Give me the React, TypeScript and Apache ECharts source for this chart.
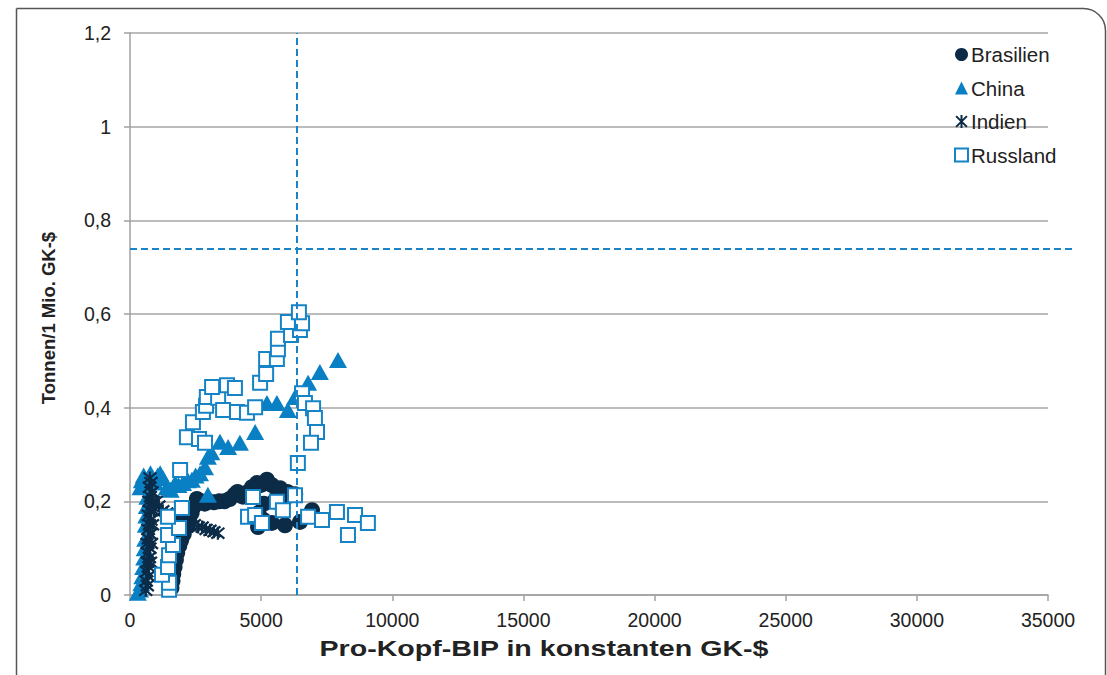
import React, { useEffect, useRef } from "react";
import * as echarts from "echarts";

// Pro-Kopf-BIP (GK-$) vs. Tonnen je 1 Mio. GK-$
const brasilien: [number, number][] = [
  [1580, 0.015], [1620, 0.03], [1650, 0.045], [1700, 0.06], [1750, 0.075], [1800, 0.09],
  [1880, 0.105], [1950, 0.117], [2050, 0.13], [2150, 0.145], [2250, 0.16], [2350, 0.175],
  [2450, 0.19], [2550, 0.205], [2700, 0.2], [2850, 0.195], [3000, 0.2], [3200, 0.198],
  [3400, 0.2], [3600, 0.2], [3800, 0.205], [4000, 0.215], [4100, 0.22], [4300, 0.21],
  [4500, 0.22], [4650, 0.23], [4840, 0.239], [5000, 0.235], [5220, 0.246], [5400, 0.235],
  [5600, 0.225], [5720, 0.228], [6000, 0.22], [6300, 0.215], [5900, 0.205], [5500, 0.2],
  [5100, 0.195], [4900, 0.175], [4880, 0.145], [5100, 0.16], [5410, 0.154], [5910, 0.149],
  [6480, 0.156], [6940, 0.181],
];

const china: [number, number][] = [
  [300, 0.005], [380, 0.012], [430, 0.025], [470, 0.04], [500, 0.06], [540, 0.08],
  [560, 0.1], [580, 0.12], [600, 0.15], [620, 0.17], [640, 0.19], [660, 0.21],
  [400, 0.23], [450, 0.245], [520, 0.255], [600, 0.24], [700, 0.25], [780, 0.26],
  [860, 0.245], [960, 0.24], [1060, 0.255], [1150, 0.26], [1250, 0.25], [1400, 0.23],
  [1550, 0.225], [1720, 0.239], [1850, 0.235], [2020, 0.239], [2200, 0.245], [2360, 0.246],
  [2500, 0.255], [2670, 0.26], [2860, 0.273], [2970, 0.295], [3100, 0.305], [2970, 0.214],
  [3430, 0.327], [3740, 0.316], [4190, 0.325], [4770, 0.348], [5220, 0.41], [5600, 0.41],
  [6020, 0.395], [6290, 0.423], [6790, 0.453], [7240, 0.476], [7930, 0.502],
];

const indien: [number, number][] = [
  [600, 0.01], [660, 0.02], [620, 0.03], [700, 0.04], [640, 0.05], [720, 0.06],
  [660, 0.07], [740, 0.08], [680, 0.09], [760, 0.1], [650, 0.11], [700, 0.12],
  [780, 0.13], [680, 0.14], [740, 0.15], [800, 0.16], [700, 0.17], [760, 0.18],
  [820, 0.19], [720, 0.2], [780, 0.21], [840, 0.22], [740, 0.23], [800, 0.24],
  [760, 0.25], [880, 0.2], [900, 0.18], [860, 0.15], [820, 0.11], [780, 0.07],
  [1000, 0.2], [1100, 0.19], [1250, 0.18], [1400, 0.175], [1550, 0.17], [1700, 0.167],
  [1850, 0.165], [2000, 0.16], [2150, 0.155], [2300, 0.15], [2450, 0.15], [2600, 0.145],
  [2750, 0.145], [2900, 0.14], [3050, 0.138], [3200, 0.135], [3350, 0.132],
];

const russland: [number, number][] = [
  [1490, 0.011], [1490, 0.026], [1220, 0.043], [1450, 0.06], [1490, 0.085], [1640, 0.107],
  [1450, 0.128], [1870, 0.143], [1450, 0.167], [1980, 0.186], [1910, 0.267], [2170, 0.337],
  [2630, 0.333], [2860, 0.325], [2400, 0.369], [2780, 0.391], [2900, 0.404], [2930, 0.423],
  [3360, 0.421], [3130, 0.444], [3700, 0.448], [4000, 0.442], [3550, 0.395], [4080, 0.391],
  [4460, 0.389], [4770, 0.401], [4960, 0.453], [5190, 0.472], [5190, 0.504], [5600, 0.504],
  [5640, 0.525], [5640, 0.547], [6140, 0.555], [6480, 0.566], [6020, 0.583], [6560, 0.58],
  [6440, 0.604], [6560, 0.431], [6670, 0.41], [6980, 0.399], [7050, 0.378], [7130, 0.348],
  [6900, 0.325], [6400, 0.282], [6290, 0.213], [4690, 0.209], [5600, 0.199], [5830, 0.181],
  [4500, 0.167], [4770, 0.171], [5030, 0.154], [6790, 0.167], [7320, 0.16], [7890, 0.177],
  [8580, 0.171], [9070, 0.154], [8310, 0.128],
];

const seriesNames = ["Brasilien", "China", "Indien", "Russland"];
const xTicks = { min: 0, max: 35000, interval: 5000 };
const yTicks = { min: 0, max: 1.2, interval: 0.2 };
const referenceGdp = 6370;
const referenceIntensity = 0.739;
const referenceLineEnd = 36000;

const yAxisTitle = "Tonnen/1 Mio. GK-$";
const xAxisTitle = "Pro-Kopf-BIP in konstanten GK-$";

const NAVY = "#0b2b47";
const BLUE = "#0a80c4";
const DASH = "#1a84c6";
const FONT = "'Liberation Sans', Arial, Helvetica, sans-serif";
const STAR = "path://M0,0L10,10M10,0L0,10M5,-1L5,11";

const staticGraphics = [
  {
    id: "frame",
    type: "rect",
    silent: true,
    z: -10,
    shape: { x: 16.5, y: 8.5, width: 1089, height: 720, r: [0, 22, 0, 0] },
    style: { fill: "none", stroke: "#555", lineWidth: 1.5 },
  },
  {
    id: "ytitle",
    type: "text",
    silent: true,
    x: 48,
    y: 318,
    rotation: Math.PI / 2,
    style: {
      text: yAxisTitle,
      font: `bold 18.5px ${FONT}`,
      fill: "#222",
      textAlign: "center",
      textVerticalAlign: "middle",
    },
  },
  {
    id: "xtitle",
    type: "text",
    silent: true,
    x: 544,
    y: 648,
    scaleX: 1.3,
    style: {
      text: xAxisTitle,
      font: `bold 22px ${FONT}`,
      fill: "#222",
      textAlign: "center",
      textVerticalAlign: "middle",
    },
  },
];

export default function App() {
  const ref = useRef<HTMLDivElement>(null);

  useEffect(() => {
    const chart = echarts.init(ref.current!, null, { renderer: "svg" });
    chart.setOption({
      animation: false,
      backgroundColor: "#ffffff",
      textStyle: { fontFamily: FONT },
      grid: { left: 130, right: 59, top: 33, bottom: 80, containLabel: false },
      legend: {
        orient: "vertical",
        left: 949,
        top: 39,
        itemWidth: 13,
        itemHeight: 13,
        itemGap: 12.5,
        textStyle: { fontSize: 20.5, color: "#222", fontFamily: FONT, padding: [0, 0, 0, -2] },
        data: seriesNames,
      },
      xAxis: {
        type: "value",
        min: xTicks.min,
        max: xTicks.max,
        interval: xTicks.interval,
        axisLine: { show: true, lineStyle: { color: "#a0a0a0", width: 1.5 } },
        axisTick: { show: true, length: 6, lineStyle: { color: "#a0a0a0", width: 1.5 } },
        axisLabel: {
          fontSize: 19.5,
          color: "#222",
          margin: 15,
          fontFamily: FONT,
          formatter: (v: number) => String(v),
        },
        splitLine: { show: false },
      },
      yAxis: {
        type: "value",
        min: yTicks.min,
        max: yTicks.max,
        interval: yTicks.interval,
        axisLine: { show: true, lineStyle: { color: "#a0a0a0", width: 1.5 } },
        axisTick: { show: true, length: 6, lineStyle: { color: "#a0a0a0", width: 1.5 } },
        axisLabel: {
          fontSize: 19.5,
          color: "#222",
          margin: 19,
          fontFamily: FONT,
          formatter: (v: number) => String(Math.round(v * 10) / 10).replace(".", ","),
        },
        splitLine: { show: true, lineStyle: { color: "#a6a6a6", width: 1.5 } },
      },
      graphic: staticGraphics,
      series: [
        {
          name: "Brasilien",
          type: "scatter",
          symbol: "circle",
          symbolSize: 16,
          itemStyle: { color: NAVY, opacity: 1 },
          data: brasilien,
        },
        {
          name: "China",
          type: "scatter",
          symbol: "triangle",
          symbolSize: [18, 16],
          itemStyle: { color: BLUE, opacity: 1 },
          data: china,
        },
        {
          name: "Indien",
          type: "scatter",
          symbol: STAR,
          symbolSize: 13,
          itemStyle: { color: NAVY, borderColor: NAVY, borderWidth: 2.2, opacity: 1 },
          data: indien,
        },
        {
          name: "Russland",
          type: "scatter",
          symbol: "rect",
          symbolSize: 14,
          itemStyle: { color: "#ffffff", borderColor: "#1583c5", borderWidth: 2, opacity: 1 },
          data: russland,
          markLine: {
            silent: true,
            symbol: "none",
            label: { show: false },
            lineStyle: { color: DASH, type: [7, 4], width: 2 },
            data: [[{ coord: [referenceGdp, yTicks.min] }, { coord: [referenceGdp, yTicks.max] }]],
          },
        },
      ],
    });

    // horizontal reference line runs a little past the plot's right edge
    const p0 = chart.convertToPixel({ gridIndex: 0 }, [xTicks.min, referenceIntensity]) as number[];
    const p1 = chart.convertToPixel({ gridIndex: 0 }, [referenceLineEnd, referenceIntensity]) as number[];
    chart.setOption({
      graphic: [
        ...staticGraphics,
        {
          id: "hline",
          type: "line",
          silent: true,
          z: 10,
          shape: { x1: p0[0], y1: p0[1], x2: p1[0], y2: p1[1] },
          style: { stroke: DASH, lineWidth: 2, lineDash: [7, 4] },
        },
      ],
    });
    return () => chart.dispose();
  }, []);

  return (
    <div
      ref={ref}
      style={{ position: "fixed", left: 0, top: 0, width: 1107, height: 675, background: "#fff" }}
    />
  );
}
